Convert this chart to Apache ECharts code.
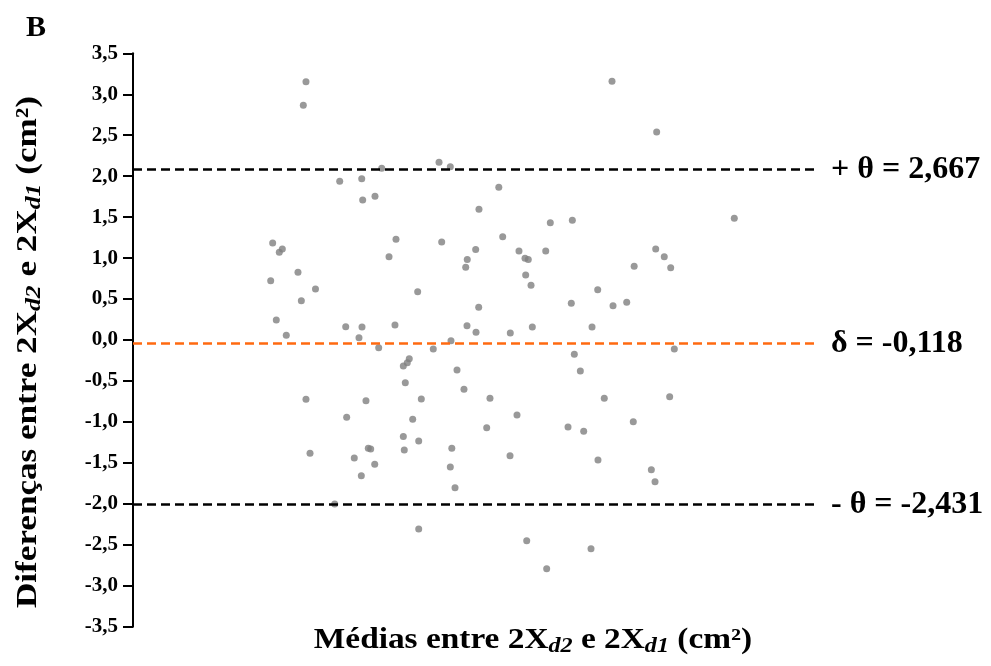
<!DOCTYPE html>
<html>
<head>
<meta charset="utf-8">
<script src="https://cdn.jsdelivr.net/npm/echarts@6/dist/echarts.min.js"></script>
<style>
html,body{margin:0;padding:0;background:#fff;}
#chart{width:991px;height:666px;}
</style>
</head>
<body>
<div id="chart"></div>
<script>
// Médias (x, arbitrary units) and Diferenças (y)
const mediaX = [25.29,24.90,30.22,33.44,33.58,35.38,36.36,44.74,46.39,53.48,50.58,20.42,21.39,21.83,38.45,37.43,45.13,50.10,48.87,54.05,
70.03,76.56,61.01,64.23,87.91,56.43,60.34,57.31,57.79,76.42,77.67,48.64,20.13,24.12,26.68,24.61,41.62,50.54,20.95,22.41,
31.10,33.48,33.04,35.92,38.30,48.83,50.15,46.49,43.90,40.39,40.10,39.52,47.37,39.81,48.39,25.29,34.06,42.15,52.19,31.24,
40.89,51.71,39.52,41.77,34.40,34.75,39.66,46.61,25.88,32.35,35.34,33.38,46.39,47.08,29.49,41.77,73.27,78.61,57.41,58.19,
67.94,64.08,70.18,72.18,55.16,58.38,67.11,64.52,65.40,79.14,68.90,78.46,56.14,63.60,65.89,73.14,55.12,67.98,75.78,76.32,
57.56,66.96,60.48];
const diffY = [3.154,2.865,1.938,1.969,1.709,1.754,2.096,2.169,2.116,1.864,1.596,1.184,1.071,1.111,1.229,1.017,1.196,1.105,0.983,1.261,
3.158,2.539,1.432,1.461,1.486,1.087,1.087,0.997,0.983,1.111,1.017,0.888,0.724,0.827,0.623,0.480,0.590,0.399,0.244,0.057,
0.162,0.159,0.028,-0.094,0.183,0.175,0.094,-0.009,-0.110,-0.228,-0.277,-0.317,-0.366,-0.521,-0.602,-0.724,-0.741,-0.720,-0.712,-0.944,
-0.968,-1.071,-1.178,-1.233,-1.322,-1.331,-1.343,-1.321,-1.383,-1.441,-1.518,-1.657,-1.550,-1.803,-2.002,-2.307,0.900,0.883,0.794,0.668,
0.614,0.448,0.419,0.460,0.085,0.159,0.159,-0.175,-0.378,-0.110,-0.712,-0.692,-0.916,-1.062,-1.115,-0.997,-1.413,-1.465,-1.583,-1.730,
-2.450,-2.548,-2.792];

// reference lines: drawn position and printed label
const refLineY = [2.084, -0.04, -2.011];
const refLineLabels = ['+ θ = 2,667', 'δ = -0,118', '- θ = -2,431'];
const refLineColors = ['#000000', '#FF6A10', '#000000'];

const yTicks = {min: -3.5, max: 3.5, interval: 0.5};

const FONT = '"Liberation Serif", "Times New Roman", serif';
const chart = echarts.init(document.getElementById('chart'));

const points = mediaX.map((x, i) => [x, diffY[i]]);

chart.setOption({
  animation: false,
  backgroundColor: '#ffffff',
  grid: {left: 133, right: 174, top: 53.3, bottom: 39.3, containLabel: false},
  xAxis: {
    type: 'value', min: 0, max: 100,
    axisLine: {show: false}, axisTick: {show: false}, axisLabel: {show: false}, splitLine: {show: false}
  },
  yAxis: {
    type: 'value', min: yTicks.min, max: yTicks.max, interval: yTicks.interval,
    axisLine: {show: true, lineStyle: {color: '#000', width: 2}},
    axisTick: {show: true, length: 10, lineStyle: {color: '#000', width: 2}},
    splitLine: {show: false},
    axisLabel: {
      margin: 15, color: '#000', fontSize: 21, fontWeight: 'bold', fontFamily: FONT,
      formatter: v => v.toFixed(1).replace('.', ',')
    }
  },
  series: [{
    type: 'scatter',
    data: points,
    symbol: 'circle',
    symbolSize: 7,
    itemStyle: {color: '#808080'},
    markLine: {
      silent: true,
      symbol: ['none', 'none'],
      data: refLineY.map((y, i) => ({
        yAxis: y,
        lineStyle: {color: refLineColors[i], type: [9, 5], width: 2.5},
        label: {
          show: true, position: 'end', distance: 14, formatter: refLineLabels[i],
          color: '#000', fontSize: 32, fontWeight: 'bold', fontFamily: FONT
        }
      }))
    }
  }],
  graphic: [
    {type: 'text', left: 26, top: 13, style: {text: 'B', font: 'bold 30px ' + FONT, fill: '#000'}},
    {
      type: 'text', x: 533, y: 641, scaleX: 1.15,
      style: {
        text: '{a|Médias entre 2X}{s|d2}{a| e 2X}{s|d1}{a| (cm²)}',
        align: 'center', verticalAlign: 'middle', fill: '#000',
        rich: {
          a: {fontSize: 29, fontWeight: 'bold', fontFamily: FONT, lineHeight: 32, fill: '#000'},
          s: {fontSize: 21, fontWeight: 'bold', fontStyle: 'italic', fontFamily: FONT, lineHeight: 21, padding: [12, 0, 0, 0], fill: '#000'}
        }
      }
    },
    {
      type: 'text', x: 28, y: 352, rotation: Math.PI / 2, scaleX: 1.17,
      style: {
        text: '{a|Diferenças entre 2X}{s|d2}{a| e 2X}{s|d1}{a| (cm²)}',
        align: 'center', verticalAlign: 'middle', fill: '#000',
        rich: {
          a: {fontSize: 30, fontWeight: 'bold', fontFamily: FONT, lineHeight: 34, fill: '#000'},
          s: {fontSize: 22, fontWeight: 'bold', fontStyle: 'italic', fontFamily: FONT, lineHeight: 22, padding: [12, 0, 0, 0], fill: '#000'}
        }
      }
    }
  ]
});
</script>
</body>
</html>
